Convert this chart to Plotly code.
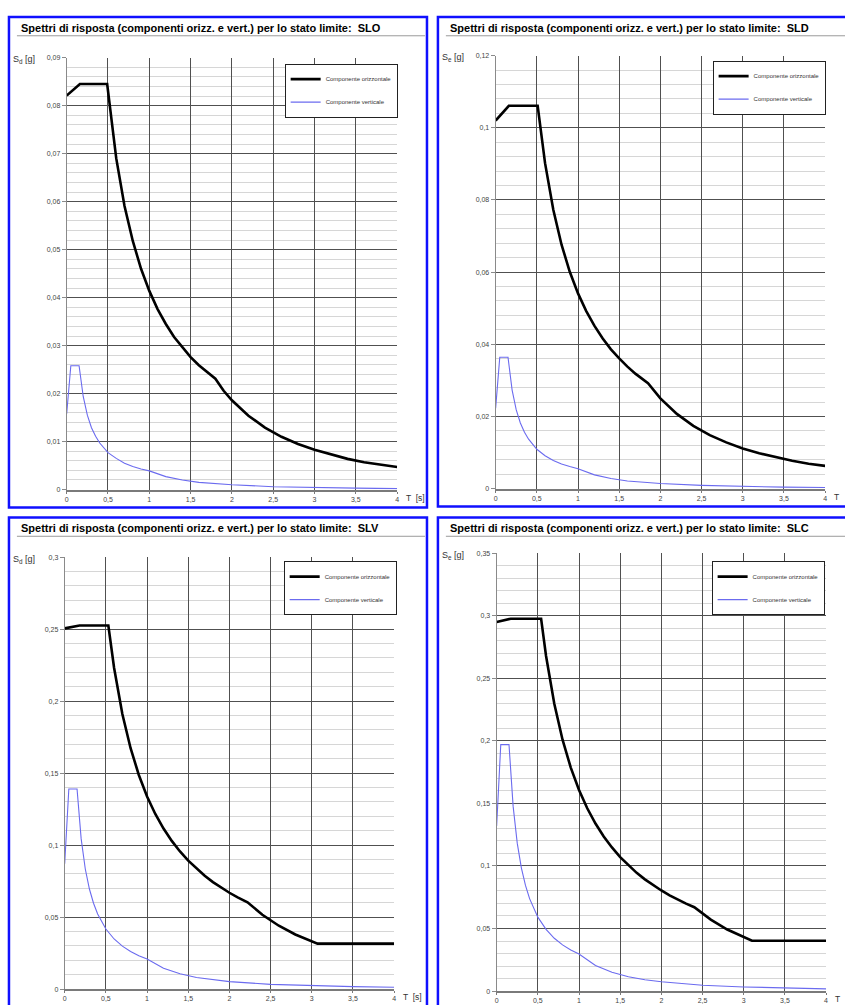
import plotly.graph_objects as go

W, H = 845, 1005

# ---------------- data ----------------
titles = [
    "Spettri di risposta (componenti orizz. e vert.) per lo stato limite:  SLO",
    "Spettri di risposta (componenti orizz. e vert.) per lo stato limite:  SLD",
    "Spettri di risposta (componenti orizz. e vert.) per lo stato limite:  SLV",
    "Spettri di risposta (componenti orizz. e vert.) per lo stato limite:  SLC",
]
y_labels = ["S<sub>d</sub> [g]", "S<sub>e</sub> [g]", "S<sub>d</sub> [g]", "S<sub>e</sub> [g]"]
x_labels = ["T  [s]", "T", "T  [s]", "T"]
legend_names = ["Componente orizzontale", "Componente verticale"]

y_max = [0.09, 0.12, 0.3, 0.35]
y_major = [0.01, 0.02, 0.05, 0.05]
y_minor = [0.002, 0.004, 0.01, 0.01]

# SLO
T_h_slo = [0, 0.16, 0.49, 0.55, 0.6, 0.7, 0.8, 0.9, 1.0, 1.1, 1.2, 1.3, 1.4, 1.5, 1.6, 1.7, 1.8,
           1.9, 2.0, 2.2, 2.4, 2.6, 2.8, 3.0, 3.2, 3.4, 3.6, 3.8, 4.0]
S_h_slo = [0.0821, 0.0845, 0.0845, 0.0753, 0.0690, 0.0591, 0.0518, 0.0460, 0.0414, 0.0376, 0.0345,
           0.0318, 0.0296, 0.0276, 0.0259, 0.0244, 0.0231, 0.0206, 0.0186, 0.0154, 0.0129, 0.0110,
           0.0095, 0.0083, 0.0073, 0.0064, 0.0057, 0.0052, 0.0047]
T_v_slo = [0, 0.05, 0.15, 0.2, 0.25, 0.3, 0.35, 0.4, 0.5, 0.6, 0.7, 0.8, 0.9, 1.0, 1.2, 1.4, 1.6,
           1.8, 2.0, 2.5, 3.0, 3.5, 4.0]
S_v_slo = [0.0158, 0.0258, 0.0258, 0.0194, 0.0155, 0.0129, 0.0111, 0.0097, 0.0077, 0.0065, 0.0055,
           0.0048, 0.0043, 0.0039, 0.0027, 0.0020, 0.0015, 0.0012, 0.0010, 0.0006, 0.0004, 0.0003,
           0.0002]

# SLD
T_h_sld = [0, 0.16, 0.51, 0.55, 0.6, 0.7, 0.8, 0.9, 1.0, 1.1, 1.2, 1.3, 1.4, 1.5, 1.6, 1.7, 1.85,
           2.0, 2.2, 2.4, 2.6, 2.8, 3.0, 3.2, 3.4, 3.6, 3.8, 4.0]
S_h_sld = [0.1020, 0.1061, 0.1061, 0.0984, 0.0902, 0.0773, 0.0676, 0.0601, 0.0541, 0.0492, 0.0451,
           0.0416, 0.0386, 0.0361, 0.0338, 0.0318, 0.0292, 0.0250, 0.0207, 0.0174, 0.0148, 0.0128,
           0.0111, 0.0098, 0.0087, 0.0077, 0.0069, 0.0063]
T_v_sld = [0, 0.05, 0.15, 0.2, 0.25, 0.3, 0.35, 0.4, 0.5, 0.6, 0.7, 0.8, 0.9, 1.0, 1.2, 1.4, 1.6,
           1.8, 2.0, 2.5, 3.0, 3.5, 4.0]
S_v_sld = [0.0223, 0.0364, 0.0364, 0.0273, 0.0218, 0.0182, 0.0156, 0.0137, 0.0109, 0.0091, 0.0078,
           0.0068, 0.0061, 0.0055, 0.0038, 0.0028, 0.0021, 0.0017, 0.0014, 0.0009, 0.0006, 0.0004,
           0.0003]

# SLV
T_h_slv = [0, 0.18, 0.53, 0.6, 0.7, 0.8, 0.9, 1.0, 1.1, 1.2, 1.3, 1.4, 1.5, 1.6, 1.7, 1.8, 1.9,
           2.0, 2.1, 2.22, 2.4, 2.6, 2.8, 3.0, 3.07, 3.5, 4.0]
S_h_slv = [0.2505, 0.2525, 0.2525, 0.2230, 0.1911, 0.1673, 0.1487, 0.1338, 0.1216, 0.1115, 0.1029,
           0.0956, 0.0892, 0.0836, 0.0787, 0.0743, 0.0704, 0.0669, 0.0637, 0.0603, 0.0516, 0.0440,
           0.0379, 0.0330, 0.0316, 0.0316, 0.0316]
T_v_slv = [0, 0.05, 0.15, 0.2, 0.25, 0.3, 0.35, 0.4, 0.5, 0.6, 0.7, 0.8, 0.9, 1.0, 1.2, 1.4, 1.6,
           1.8, 2.0, 2.5, 3.0, 3.5, 4.0]
S_v_slv = [0.0870, 0.1390, 0.1390, 0.1043, 0.0834, 0.0695, 0.0596, 0.0521, 0.0417, 0.0348, 0.0298,
           0.0261, 0.0232, 0.0209, 0.0145, 0.0106, 0.0081, 0.0064, 0.0052, 0.0033, 0.0023, 0.0017,
           0.0013]

# SLC
T_h_slc = [0, 0.17, 0.54, 0.6, 0.7, 0.8, 0.9, 1.0, 1.1, 1.2, 1.3, 1.4, 1.5, 1.6, 1.7, 1.8, 1.9,
           2.0, 2.1, 2.2, 2.3, 2.4, 2.6, 2.8, 3.0, 3.1, 3.5, 4.0]
S_h_slc = [0.2950, 0.2976, 0.2976, 0.2678, 0.2296, 0.2009, 0.1786, 0.1607, 0.1461, 0.1339, 0.1236,
           0.1148, 0.1071, 0.1004, 0.0945, 0.0893, 0.0846, 0.0804, 0.0765, 0.0730, 0.0699, 0.0670,
           0.0571, 0.0492, 0.0429, 0.0402, 0.0402, 0.0402]
T_v_slc = [0, 0.05, 0.15, 0.2, 0.25, 0.3, 0.35, 0.4, 0.5, 0.6, 0.7, 0.8, 0.9, 1.0, 1.2, 1.4, 1.6,
           1.8, 2.0, 2.5, 3.0, 3.5, 4.0]
S_v_slc = [0.1320, 0.1970, 0.1970, 0.1478, 0.1182, 0.0985, 0.0844, 0.0739, 0.0591, 0.0493, 0.0422,
           0.0369, 0.0328, 0.0296, 0.0205, 0.0151, 0.0115, 0.0091, 0.0074, 0.0047, 0.0033, 0.0024,
           0.0018]

series = [
    (T_h_slo, S_h_slo, T_v_slo, S_v_slo),
    (T_h_sld, S_h_sld, T_v_sld, S_v_sld),
    (T_h_slv, S_h_slv, T_v_slv, S_v_slv),
    (T_h_slc, S_h_slc, T_v_slc, S_v_slc),
]

# ---------------- layout geometry (pixels) ----------------
# plot areas: (left, right, top, bottom)
plot_px = [(65, 397, 54, 489), (496, 827, 52, 488), (63, 394, 557, 992), (497, 828, 553, 994)]
# panel borders: (left, right, top, bottom)
panel_px = [(7, 427, 13, 507), (438, 852, 13, 506), (7, 427, 517, 1012), (438, 852, 517, 1012)]
legend_px = [(284, 60), (714, 57), (283, 561), (713, 561)]


def px(x):
    return x / W


def py(y):
    return 1 - y / H


fig = go.Figure()
layout = dict(
    width=W, height=H, margin=dict(l=0, r=0, t=0, b=0),
    paper_bgcolor="white", plot_bgcolor="white",
    separators=", ",
    font=dict(family="Liberation Sans, Arial, sans-serif", color="#333"),
    showlegend=True,
)
shapes = []
annotations = []

for i in range(4):
    n = "" if i == 0 else str(i + 1)
    xa, ya = "x" + n, "y" + n
    legend_id = "legend" + n
    Th, Sh, Tv, Sv = series[i]
    fig.add_trace(go.Scatter(x=Th, y=Sh, mode="lines", name=legend_names[0],
                             line=dict(color="black", width=2.6),
                             xaxis=xa, yaxis=ya, legend=legend_id, legendgroup="h%d" % i))
    fig.add_trace(go.Scatter(x=Tv, y=Sv, mode="lines", name=legend_names[1],
                             line=dict(color="#6b6bef", width=1.1),
                             xaxis=xa, yaxis=ya, legend=legend_id, legendgroup="v%d" % i))
    l, r, t, b = plot_px[i]
    layout["xaxis" + n] = dict(
        domain=[px(l), px(r)], anchor=ya, range=[0, 4], dtick=0.5, tick0=0,
        showgrid=True, gridcolor="#505050", gridwidth=1.2, zeroline=False,
        showline=True, linecolor="#7a7a7a", linewidth=2,
        ticks="outside", ticklen=2, tickcolor="#7a7a7a",
        tickfont=dict(size=7, color="#444"),
    )
    layout["yaxis" + n] = dict(
        domain=[py(b), py(t)], anchor=xa, range=[0, y_max[i]], dtick=y_major[i], tick0=0,
        showgrid=True, gridcolor="#505050", gridwidth=1.2, zeroline=False,
        showline=True, linecolor="#8a8a8a", linewidth=1,
        ticks="outside", ticklen=4, tickcolor="#8a8a8a",
        tickfont=dict(size=7, color="#444"),
        minor=dict(dtick=y_minor[i], tick0=0, showgrid=True, gridcolor="#d6d6d6", gridwidth=1,
                   ticks=""),
    )
    lx, ly = legend_px[i]
    layout[legend_id] = dict(
        x=px(lx), y=py(ly), xanchor="left", yanchor="top",
        bgcolor="white", bordercolor="#222", borderwidth=1,
        font=dict(size=6, color="#333"), tracegroupgap=4, itemwidth=30,
    )
    # panel border
    pl, pr, pt, pb = panel_px[i]
    shapes.append(dict(type="rect", xref="paper", yref="paper",
                       x0=px(pl), x1=px(pr), y0=py(pb), y1=py(pt),
                       line=dict(color="#1010ff", width=2.5)))
    # header rule
    shapes.append(dict(type="line", xref="paper", yref="paper",
                       x0=px(pl + 8), x1=px(pr - 2), y0=py(pt + 19), y1=py(pt + 19),
                       line=dict(color="#9a9a9a", width=1)))
    annotations.append(dict(xref="paper", yref="paper", x=px(pl + 10), y=py(pt + 11),
                            xanchor="left", yanchor="middle", showarrow=False,
                            text="<b>" + titles[i] + "</b>",
                            font=dict(size=11, color="black")))
    annotations.append(dict(xref="paper", yref="paper", x=px(pl + 2), y=py(t + 2),
                            xanchor="left", yanchor="middle", showarrow=False,
                            text=y_labels[i], font=dict(size=9, color="#333")))
    annotations.append(dict(xref="paper", yref="paper", x=px(r + 7), y=py(b + 8),
                            xanchor="left", yanchor="middle", showarrow=False,
                            text=x_labels[i], font=dict(size=8.5, color="#333")))

layout["shapes"] = shapes
layout["annotations"] = annotations
fig.update_layout(**layout)
fig.write_html("out.html", config={"displayModeBar": False},
               post_script="document.body.style.margin='0px';")
